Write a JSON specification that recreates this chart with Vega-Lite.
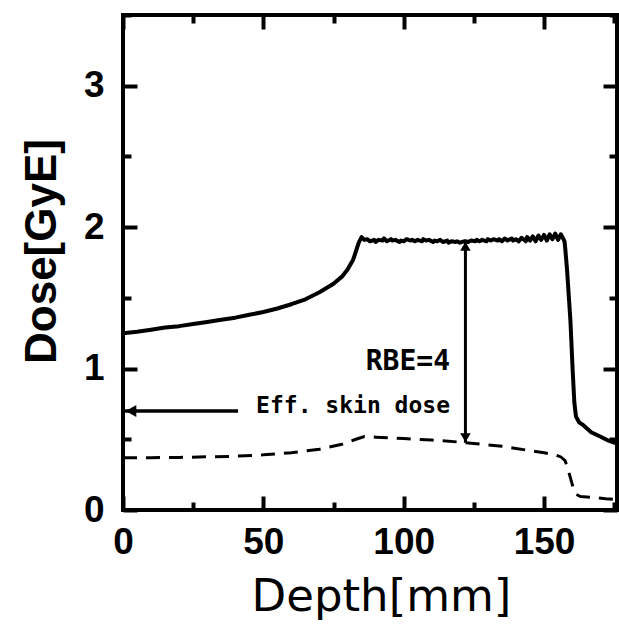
{
  "$schema": "https://vega.github.io/schema/vega-lite/v6.json",
  "width": 494,
  "height": 495,
  "autosize": {"type": "none"},
  "padding": {"left": 123, "top": 15, "right": 2, "bottom": 114},
  "background": "white",
  "config": {
    "view": {"stroke": "black", "strokeWidth": 4},
    "axis": {"grid": false, "domain": false, "tickColor": "black", "tickWidth": 4, "labelColor": "black", "titleColor": "black", "labelFlush": false}
  },
  "datasets": {
    "solid": [
      {"d": 0, "v": 1.25}, {"d": 5, "v": 1.26}, {"d": 10, "v": 1.275}, {"d": 15, "v": 1.29},
      {"d": 20, "v": 1.3}, {"d": 25, "v": 1.315}, {"d": 30, "v": 1.33}, {"d": 35, "v": 1.345},
      {"d": 40, "v": 1.36}, {"d": 45, "v": 1.38}, {"d": 50, "v": 1.4}, {"d": 55, "v": 1.425},
      {"d": 60, "v": 1.455}, {"d": 65, "v": 1.49}, {"d": 70, "v": 1.54}, {"d": 75, "v": 1.6},
      {"d": 78, "v": 1.65}, {"d": 80, "v": 1.7}, {"d": 82, "v": 1.77}, {"d": 83, "v": 1.83},
      {"d": 84, "v": 1.89}, {"d": 85, "v": 1.93}, {"d": 86, "v": 1.91}, {"d": 87, "v": 1.915},
      {"d": 88, "v": 1.9}, {"d": 89.5, "v": 1.91}, {"d": 90, "v": 1.895}, {"d": 91, "v": 1.91},
      {"d": 92.5, "v": 1.905}, {"d": 93, "v": 1.92}, {"d": 94, "v": 1.9}, {"d": 95.5, "v": 1.915},
      {"d": 96, "v": 1.905}, {"d": 97, "v": 1.91}, {"d": 98.5, "v": 1.895}, {"d": 99, "v": 1.905},
      {"d": 100, "v": 1.9}, {"d": 101, "v": 1.915}, {"d": 102.5, "v": 1.905}, {"d": 103, "v": 1.91},
      {"d": 104, "v": 1.9}, {"d": 105, "v": 1.91}, {"d": 106.5, "v": 1.9}, {"d": 107, "v": 1.915},
      {"d": 108, "v": 1.905}, {"d": 109, "v": 1.91}, {"d": 110.5, "v": 1.895}, {"d": 111, "v": 1.905},
      {"d": 112, "v": 1.9}, {"d": 113, "v": 1.91}, {"d": 114, "v": 1.895}, {"d": 115.5, "v": 1.905},
      {"d": 116, "v": 1.89}, {"d": 117, "v": 1.9}, {"d": 118.5, "v": 1.895}, {"d": 119, "v": 1.9},
      {"d": 120, "v": 1.89}, {"d": 121.5, "v": 1.9}, {"d": 122, "v": 1.9}, {"d": 123, "v": 1.895},
      {"d": 124, "v": 1.905}, {"d": 125.5, "v": 1.9}, {"d": 126, "v": 1.91}, {"d": 127, "v": 1.9},
      {"d": 128, "v": 1.91}, {"d": 129.5, "v": 1.9}, {"d": 130, "v": 1.915}, {"d": 131, "v": 1.905},
      {"d": 132, "v": 1.915}, {"d": 133.5, "v": 1.905}, {"d": 134, "v": 1.915}, {"d": 135, "v": 1.9},
      {"d": 136, "v": 1.92}, {"d": 137, "v": 1.905}, {"d": 138.5, "v": 1.92}, {"d": 139, "v": 1.905},
      {"d": 140, "v": 1.915}, {"d": 141, "v": 1.9}, {"d": 142, "v": 1.925}, {"d": 143.5, "v": 1.9},
      {"d": 144, "v": 1.93}, {"d": 145, "v": 1.905}, {"d": 146, "v": 1.935}, {"d": 147, "v": 1.9},
      {"d": 148, "v": 1.94}, {"d": 149, "v": 1.91}, {"d": 150, "v": 1.945}, {"d": 151, "v": 1.905},
      {"d": 152, "v": 1.95}, {"d": 153, "v": 1.915}, {"d": 154, "v": 1.955}, {"d": 155, "v": 1.91},
      {"d": 156, "v": 1.95}, {"d": 156.8, "v": 1.92}, {"d": 157.3, "v": 1.9}, {"d": 157.6, "v": 1.84},
      {"d": 158.2, "v": 1.7}, {"d": 159.4, "v": 1.34}, {"d": 160.2, "v": 0.99}, {"d": 160.8, "v": 0.76},
      {"d": 161.4, "v": 0.66}, {"d": 162.5, "v": 0.62}, {"d": 164, "v": 0.6}, {"d": 166.8, "v": 0.55},
      {"d": 170, "v": 0.52}, {"d": 173, "v": 0.49}, {"d": 176, "v": 0.47}
    ],
    "dashed": [
      {"d": 0, "v": 0.37}, {"d": 10, "v": 0.37}, {"d": 20, "v": 0.372}, {"d": 30, "v": 0.376},
      {"d": 40, "v": 0.38}, {"d": 50, "v": 0.39}, {"d": 60, "v": 0.405}, {"d": 70, "v": 0.43},
      {"d": 78, "v": 0.465}, {"d": 83, "v": 0.5}, {"d": 86, "v": 0.52}, {"d": 90, "v": 0.515},
      {"d": 100, "v": 0.505}, {"d": 110, "v": 0.495}, {"d": 120, "v": 0.48}, {"d": 128, "v": 0.465},
      {"d": 135, "v": 0.45}, {"d": 140, "v": 0.435}, {"d": 145, "v": 0.42}, {"d": 150, "v": 0.405},
      {"d": 154, "v": 0.39}, {"d": 156, "v": 0.375}, {"d": 157.5, "v": 0.35}, {"d": 158.5, "v": 0.29},
      {"d": 159.5, "v": 0.22}, {"d": 160.5, "v": 0.15}, {"d": 161.5, "v": 0.11}, {"d": 163, "v": 0.095},
      {"d": 167, "v": 0.09}, {"d": 172, "v": 0.08}, {"d": 176, "v": 0.075}
    ],
    "vline": [{"d": 122, "top": 1.9, "bot": 0.475}],
    "hline": [{"d0": 0, "d1": 41, "v": 0.7}]
  },
  "resolve": {"axis": {"x": "independent", "y": "independent"}},
  "layer": [
    {
      "data": {"name": "solid"},
      "mark": {"type": "line", "color": "black", "strokeWidth": 4, "strokeJoin": "round"},
      "encoding": {
        "x": {"field": "d", "type": "quantitative",
          "scale": {"domain": [0, 176], "nice": false, "zero": false},
          "axis": {"orient": "bottom", "values": [0, 50, 100, 150], "format": "d", "tickSize": -14,
            "labelFont": "Liberation Sans", "labelFontSize": 37, "labelFontWeight": "bold",
            "labelPadding": 28, "labelBaseline": "top",
            "title": "Depth[mm]", "titleFont": "DejaVu Sans", "titleFontSize": 45, "titleFontWeight": "normal",
            "titleX": 258, "titleY": 100, "titleBaseline": "alphabetic", "titleAlign": "center"}},
        "y": {"field": "v", "type": "quantitative",
          "scale": {"domain": [0, 3.5], "nice": false, "zero": false},
          "axis": {"orient": "left", "values": [0, 1, 2, 3], "format": "d", "tickSize": -14,
            "labelFont": "Liberation Sans", "labelFontSize": 37, "labelFontWeight": "bold",
            "labelPadding": 33,
            "title": "Dose[GyE]", "titleFont": "Liberation Sans", "titleFontSize": 44, "titleFontWeight": "bold",
            "titleX": -68, "titleY": 236, "titleBaseline": "alphabetic", "titleAlign": "center", "titleAngle": 270}}
      }
    },
    {
      "data": {"name": "dashed"},
      "mark": {"type": "line", "color": "black", "strokeWidth": 3, "strokeDash": [14, 9]},
      "encoding": {
        "x": {"field": "d", "type": "quantitative",
          "axis": {"orient": "top", "values": [0, 50, 100, 150], "labels": false, "title": null, "tickSize": -14}},
        "y": {"field": "v", "type": "quantitative",
          "axis": {"orient": "right", "values": [0, 1, 2, 3], "labels": false, "title": null, "tickSize": -14}}
      }
    },
    {
      "data": {"name": "vline"},
      "mark": {"type": "rule", "color": "black", "strokeWidth": 3},
      "encoding": {
        "x": {"field": "d", "type": "quantitative",
          "axis": {"orient": "bottom", "values": [25, 75, 125, 175], "labels": false, "title": null, "tickSize": -8}},
        "y": {"field": "top", "type": "quantitative",
          "axis": {"orient": "left", "values": [0.5, 1.5, 2.5, 3.5], "labels": false, "title": null, "tickSize": -8}},
        "y2": {"field": "bot"}
      }
    },
    {
      "data": {"name": "hline"},
      "mark": {"type": "rule", "color": "black", "strokeWidth": 3.5},
      "encoding": {
        "x": {"field": "d0", "type": "quantitative",
          "axis": {"orient": "top", "values": [25, 75, 125, 175], "labels": false, "title": null, "tickSize": -8}},
        "x2": {"field": "d1"},
        "y": {"field": "v", "type": "quantitative",
          "axis": {"orient": "right", "values": [0.5, 1.5, 2.5, 3.5], "labels": false, "title": null, "tickSize": -8}}
      }
    },
    {
      "data": {"name": "vline"},
      "mark": {"type": "point", "shape": "triangle-up", "filled": true, "color": "black", "size": 110, "opacity": 1, "yOffset": 5},
      "encoding": {
        "x": {"field": "d", "type": "quantitative", "axis": null},
        "y": {"field": "top", "type": "quantitative", "axis": null}
      }
    },
    {
      "data": {"name": "vline"},
      "mark": {"type": "point", "shape": "triangle-down", "filled": true, "color": "black", "size": 110, "opacity": 1, "yOffset": -5},
      "encoding": {
        "x": {"field": "d", "type": "quantitative", "axis": null},
        "y": {"field": "bot", "type": "quantitative", "axis": null}
      }
    },
    {
      "data": {"name": "hline"},
      "mark": {"type": "point", "shape": "triangle-left", "filled": true, "color": "black", "size": 150, "opacity": 1, "xOffset": 8},
      "encoding": {
        "x": {"field": "d0", "type": "quantitative", "axis": null},
        "y": {"field": "v", "type": "quantitative", "axis": null}
      }
    },
    {
      "data": {"values": [{"d": 116.5, "v": 0.99, "label": "RBE=4"}]},
      "mark": {"type": "text", "font": "DejaVu Sans Mono", "fontSize": 28, "fontWeight": "bold", "align": "right", "baseline": "alphabetic", "color": "black"},
      "encoding": {
        "x": {"field": "d", "type": "quantitative", "axis": null},
        "y": {"field": "v", "type": "quantitative", "axis": null},
        "text": {"field": "label"}
      }
    },
    {
      "data": {"values": [{"d": 116.5, "v": 0.686, "label": "Eff. skin dose"}]},
      "mark": {"type": "text", "font": "DejaVu Sans Mono", "fontSize": 23, "fontWeight": "bold", "align": "right", "baseline": "alphabetic", "color": "black"},
      "encoding": {
        "x": {"field": "d", "type": "quantitative", "axis": null},
        "y": {"field": "v", "type": "quantitative", "axis": null},
        "text": {"field": "label"}
      }
    }
  ]
}
